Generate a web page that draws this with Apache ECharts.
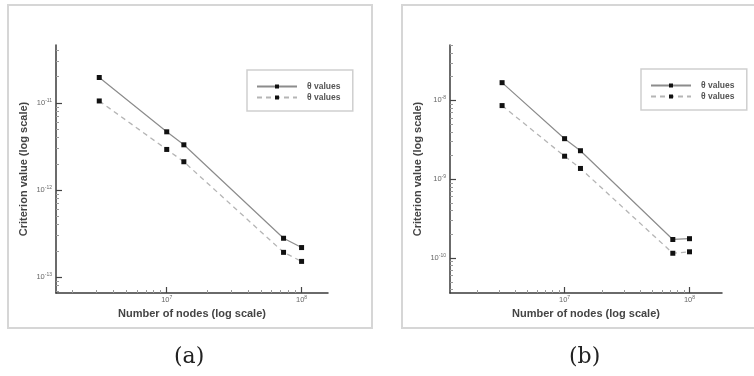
<!DOCTYPE html>
<html>
<head>
<meta charset="utf-8">
<script src="https://cdn.jsdelivr.net/npm/echarts@6/dist/echarts.min.js"></script>
<style>html,body{margin:0;padding:0;background:#fff}#c{width:754px;height:376px}</style>
</head>
<body>
<div id="c"></div>
<script>
// ---- data ----
const nodes = [3.16e6, 1.0e7, 1.34e7, 7.35e7, 1.0e8];
const a_solid  = [1.95e-11, 4.65e-12, 3.3e-12, 2.8e-13, 2.19e-13];
const a_dashed = [1.05e-11, 2.92e-12, 2.11e-12, 1.93e-13, 1.52e-13];
const b_solid  = [1.68e-8, 3.27e-9, 2.30e-9, 1.72e-10, 1.76e-10];
const b_dashed = [8.6e-9, 1.96e-9, 1.37e-9, 1.15e-10, 1.20e-10];
const xTicks  = [1e7, 1e8];
const aYTicks = [1e-13, 1e-12, 1e-11];
const bYTicks = [1e-10, 1e-9, 1e-8];
const nameSolid = 'θ values';
const nameDashed = 'θ values ';
const xTitle = 'Number of nodes (log scale)';
const yTitle = 'Criterion value (log scale)';

function minor(minExp, maxExp, lo, hi) {
  const out = [];
  for (let e = minExp; e <= maxExp; e++) {
    for (let k = 2; k <= 9; k++) {
      const v = k * Math.pow(10, e);
      if (v > lo && v < hi) out.push(v);
    }
  }
  return out;
}
const fmt = v => '{b|10}{s|' + Math.round(Math.log10(v)) + '}';
const rich = { b: { fontSize: 7.5, color: '#666' }, s: { fontSize: 5, color: '#666', padding: [0, 0, 5, 0] } };

const axisLineStyle = { color: '#3a3a3a', width: 1.5 };

function xAxes(grid, lo, hi) {
  return [
    { type: 'log', gridIndex: grid, min: lo, max: hi, position: 'bottom',
      name: xTitle, nameLocation: 'middle', nameGap: 11,
      nameTextStyle: { fontSize: 11, fontWeight: 'bold', color: '#444', fontFamily: 'Liberation Sans' },
      axisLine: { lineStyle: axisLineStyle },
      axisTick: { inside: true, length: 6, customValues: xTicks, lineStyle: { color: '#444', width: 1.2 } },
      axisLabel: { customValues: xTicks, formatter: fmt, rich: rich, margin: 2 },
      splitLine: { show: false } },
    { type: 'log', gridIndex: grid, min: lo, max: hi, position: 'bottom', offset: 0,
      axisLine: { show: false },
      axisTick: { inside: true, length: 3, customValues: minor(6, 8, lo, hi), lineStyle: { color: '#999' } },
      axisLabel: { show: false }, splitLine: { show: false } }
  ];
}
function yAxes(grid, lo, hi, ticks, e0, e1) {
  return [
    { type: 'log', gridIndex: grid, min: lo, max: hi, position: 'left',
      name: yTitle, nameLocation: 'middle', nameGap: 27, nameRotate: 90,
      nameTextStyle: { fontSize: 11, fontWeight: 'bold', color: '#444', fontFamily: 'Liberation Sans' },
      axisLine: { lineStyle: axisLineStyle },
      axisTick: { inside: true, length: 6, customValues: ticks, lineStyle: { color: '#444', width: 1.2 } },
      axisLabel: { customValues: ticks, formatter: fmt, rich: rich, margin: 4 },
      splitLine: { show: false } },
    { type: 'log', gridIndex: grid, min: lo, max: hi, position: 'left', offset: 0,
      axisLine: { show: false },
      axisTick: { inside: true, length: 3, customValues: minor(e0, e1, lo, hi), lineStyle: { color: '#999' } },
      axisLabel: { show: false }, splitLine: { show: false } }
  ];
}

function ser(name, vals, xi, yi, dashed) {
  return {
    name: name, type: 'line', xAxisIndex: xi, yAxisIndex: yi,
    data: nodes.map((x, i) => [x, vals[i]]),
    symbol: 'rect', symbolSize: 5,
    itemStyle: { color: '#111' },
    lineStyle: dashed ? { color: '#b5b5b5', width: 1.3, type: [5, 4] } : { color: '#8c8c8c', width: 1.2 },
    animation: false
  };
}

function legend(left, top) {
  return {
    left: left, top: top, orient: 'vertical', itemGap: 2, itemWidth: 40, itemHeight: 5,
    padding: [12, 10, 9, 9], borderColor: '#cfcfcf', borderWidth: 1.5,
    data: [nameSolid, nameDashed],
    textStyle: { fontSize: 8.5, fontWeight: 'bold', color: '#555', fontFamily: 'Liberation Sans', padding: [0, 0, 0, 5] },
    selectedMode: false
  };
}

const chart = echarts.init(document.getElementById('c'), null, { renderer: 'canvas' });
chart.setOption({
  backgroundColor: '#fff',
  animation: false,
  graphic: [
    { type: 'rect', shape: { x: 8, y: 5, width: 364, height: 323 }, style: { fill: 'none', stroke: '#d6d6d6', lineWidth: 2 }, z: -1 },
    { type: 'rect', shape: { x: 402, y: 5, width: 360, height: 323 }, style: { fill: 'none', stroke: '#d6d6d6', lineWidth: 2 }, z: -1 },
    { type: 'text', left: 174, top: 346, style: { text: '(a)', font: '22px "DejaVu Serif"', fill: '#222' } },
    { type: 'text', left: 569, top: 346, style: { text: '(b)', font: '22px "DejaVu Serif"', fill: '#222' } }
  ],
  grid: [
    { left: 56, top: 45, width: 272, height: 248 },
    { left: 450, top: 45, width: 272, height: 248 }
  ],
  xAxis: [].concat(xAxes(0, 1.51e6, 1.57e8), xAxes(1, 1.21e6, 1.82e8)),
  yAxis: [].concat(yAxes(0, 6.6e-14, 4.6e-11, aYTicks, -14, -11), yAxes(1, 3.6e-11, 5.05e-8, bYTicks, -11, -8)),
  legend: [legend(247, 70), legend(641, 69)],
  series: [
    ser(nameSolid, a_solid, 0, 0, false),
    ser(nameDashed, a_dashed, 0, 0, true),
    ser(nameSolid, b_solid, 2, 2, false),
    ser(nameDashed, b_dashed, 2, 2, true)
  ]
});
</script>
</body>
</html>
